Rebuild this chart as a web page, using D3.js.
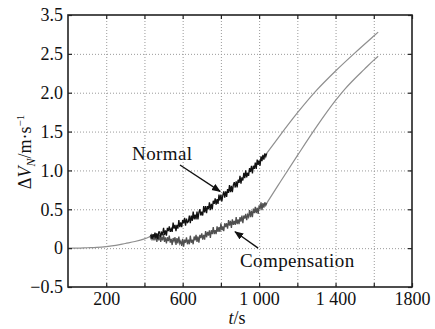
<!DOCTYPE html>
<html>
<head>
<meta charset="utf-8">
<script src="https://cdn.jsdelivr.net/npm/d3@7"></script>
<style>
  body { margin: 0; background: #fff; }
  #chart, #chart text { font-family: 'Liberation Serif', 'Times New Roman', Times, Tinos, 'Nimbus Roman', FreeSerif, 'DejaVu Serif', serif; }
</style>
</head>
<body>
<svg id="chart" width="435" height="329"></svg>
<script>
// shared smooth start (both runs identical before ~430 s)
const startT = [0, 50, 100, 150, 200, 250, 300, 350, 400, 430];
const startV = [0, 0, 0.005, 0.01, 0.02, 0.035, 0.06, 0.085, 0.12, 0.15];

// noisy section, every 5 s from 430 to 1040
const noisyT = d3.range(430, 1041, 5);
const normalNoisy = [
  0.15, 0.17, 0.12, 0.18, 0.14, 0.20, 0.13, 0.19, 0.12, 0.21,
  0.21, 0.14, 0.20, 0.18, 0.26, 0.17, 0.23, 0.16, 0.26, 0.22,
  0.28, 0.21, 0.25, 0.21, 0.33, 0.25, 0.30, 0.22, 0.30, 0.25,
  0.36, 0.27, 0.33, 0.27, 0.36, 0.32, 0.39, 0.29, 0.38, 0.33,
  0.34, 0.42, 0.32, 0.42, 0.35, 0.47, 0.37, 0.43, 0.37, 0.47,
  0.37, 0.46, 0.50, 0.42, 0.47, 0.42, 0.54, 0.46, 0.54, 0.45,
  0.54, 0.50, 0.59, 0.49, 0.57, 0.50, 0.61, 0.57, 0.64, 0.56,
  0.63, 0.57, 0.69, 0.61, 0.69, 0.60, 0.68, 0.73, 0.65, 0.73,
  0.66, 0.76, 0.71, 0.81, 0.72, 0.80, 0.72, 0.81, 0.85, 0.78,
  0.86, 0.78, 0.88, 0.84, 0.93, 0.83, 0.91, 0.87, 0.97, 0.90,
  1.00, 0.91, 0.97, 0.93, 1.03, 0.98, 1.06, 0.96, 1.06, 1.02,
  1.10, 1.02, 1.14, 1.07, 1.13, 1.06, 1.18, 1.12, 1.20, 1.14,
  1.22, 1.18, 1.22];
const compNoisy = [
  0.15, 0.12, 0.17, 0.10, 0.17, 0.10, 0.19, 0.08, 0.15, 0.10,
  0.17, 0.08, 0.14, 0.10, 0.18, 0.08, 0.14, 0.06, 0.14, 0.09,
  0.16, 0.07, 0.12, 0.04, 0.13, 0.09, 0.14, 0.04, 0.13, 0.06,
  0.15, 0.06, 0.09, 0.03, 0.12, 0.02, 0.11, 0.07, 0.14, 0.05,
  0.11, 0.05, 0.16, 0.07, 0.11, 0.05, 0.15, 0.10, 0.17, 0.08,
  0.15, 0.07, 0.17, 0.13, 0.19, 0.11, 0.17, 0.11, 0.22, 0.14,
  0.21, 0.16, 0.23, 0.13, 0.23, 0.18, 0.27, 0.18, 0.23, 0.18,
  0.28, 0.21, 0.27, 0.21, 0.32, 0.23, 0.28, 0.22, 0.32, 0.27,
  0.32, 0.25, 0.36, 0.29, 0.35, 0.26, 0.37, 0.30, 0.35, 0.30,
  0.40, 0.31, 0.37, 0.31, 0.40, 0.34, 0.42, 0.32, 0.42, 0.38,
  0.44, 0.36, 0.43, 0.40, 0.49, 0.40, 0.48, 0.40, 0.51, 0.45,
  0.53, 0.45, 0.52, 0.44, 0.55, 0.50, 0.59, 0.49, 0.58, 0.52,
  0.59, 0.55, 0.58];

// smooth tails after the noisy part
const normalTailT = [1040, 1100, 1200, 1300, 1400, 1500, 1600, 1623];
const normalTailV = [1.22, 1.42, 1.74, 2.03, 2.28, 2.51, 2.73, 2.78];
const compTailT = [1040, 1100, 1200, 1300, 1400, 1450, 1500, 1550, 1600, 1623];
const compTailV = [0.58, 0.81, 1.19, 1.56, 1.90, 2.05, 2.18, 2.30, 2.42, 2.47];

const xTicks = [200, 400, 600, 800, 1000, 1200, 1400, 1600, 1800];
const xLabels = { 200: "200", 600: "600", 1000: "1 000", 1400: "1 400", 1800: "1800" };
const yTicks = [-0.5, 0, 0.5, 1.0, 1.5, 2.0, 2.5, 3.0];
const yLabels = ["\u22120.5", "0", "0.5", "1.0", "1.5", "2.0", "2.5", "3.5"];

const serif = "'Liberation Serif', 'Times New Roman', Times, Tinos, 'Nimbus Roman', FreeSerif, 'DejaVu Serif', serif";
const svg = d3.select("#chart").attr("font-family", serif);
const mLeft = 68, mRight = 412, mTop = 15, mBottom = 287;
const x = d3.scaleLinear().domain([0, 1800]).range([mLeft, mRight]);
const y = d3.scaleLinear().domain([-0.5, 3.0]).range([mBottom, mTop]);

const zip = (ts, vs) => ts.map((t, i) => [t, vs[i]]);
const smooth = d3.line().curve(d3.curveMonotoneX).x(d => x(d[0])).y(d => y(d[1]));
const line = d3.line().x(d => x(d[0])).y(d => y(d[1]));

// grid
const grid = svg.append("g").attr("stroke", "#9a9a9a").attr("stroke-width", 1)
  .attr("stroke-dasharray", "1,2");
grid.selectAll("line.gx").data(xTicks.slice(0, -1)).join("line")
  .attr("x1", d => x(d) + 0.5).attr("x2", d => x(d) + 0.5)
  .attr("y1", mTop).attr("y2", mBottom);
grid.selectAll("line.gy").data(yTicks.slice(1, -1)).join("line")
  .attr("x1", mLeft).attr("x2", mRight)
  .attr("y1", d => y(d) + 0.5).attr("y2", d => y(d) + 0.5);

// curves
[[startT, startV], [normalTailT, normalTailV], [compTailT, compTailV]].forEach(([ts, vs]) => {
  svg.append("path").datum(zip(ts, vs))
    .attr("d", smooth).attr("fill", "none").attr("stroke", "#8f8f8f").attr("stroke-width", 1.2);
});
svg.append("path").datum(zip(noisyT, compNoisy))
  .attr("d", line).attr("fill", "none").attr("stroke", "#505050").attr("stroke-width", 1.3);
svg.append("path").datum(zip(noisyT, normalNoisy))
  .attr("d", line).attr("fill", "none").attr("stroke", "#111").attr("stroke-width", 1.3);

// axes (ticks inward, frame drawn separately)
const xAxis = d3.axisBottom(x).tickValues(xTicks).tickSize(-4).tickPadding(5)
  .tickFormat(d => xLabels[d] || "");
const yAxis = d3.axisLeft(y).tickValues(yTicks).tickSize(-4).tickPadding(5)
  .tickFormat((d, i) => yLabels[i]);
svg.append("g").attr("transform", `translate(0,${mBottom})`).call(xAxis);
svg.append("g").attr("transform", `translate(${mLeft},0)`).call(yAxis);
svg.append("g").attr("transform", `translate(0,${mTop})`)
  .call(d3.axisTop(x).tickValues(xTicks).tickSize(-4).tickFormat(""));
svg.append("g").attr("transform", `translate(${mRight},0)`)
  .call(d3.axisRight(y).tickValues(yTicks).tickSize(-4).tickFormat(""));
svg.selectAll(".domain").remove();
svg.selectAll(".tick line").attr("stroke", "#222").attr("stroke-width", 1.2);
svg.selectAll(".tick text").attr("font-size", 18).attr("font-family", serif).attr("fill", "#111");

svg.append("rect").attr("x", mLeft).attr("y", mTop)
  .attr("width", mRight - mLeft).attr("height", mBottom - mTop)
  .attr("fill", "none").attr("stroke", "#222").attr("stroke-width", 1.6);

// titles
const xt = svg.append("text").attr("x", (mLeft + mRight) / 2 - 3).attr("y", 324)
  .attr("text-anchor", "middle").attr("font-size", 18).attr("font-family", serif).attr("fill", "#111");
xt.append("tspan").attr("font-style", "italic").text("t");
xt.append("tspan").text("/s");

const yt = svg.append("text").attr("transform", "translate(31,152) rotate(-90)")
  .attr("text-anchor", "middle").attr("font-size", 18).attr("font-family", serif).attr("fill", "#111");
yt.append("tspan").text("\u0394");
yt.append("tspan").attr("font-style", "italic").text("V");
yt.append("tspan").attr("font-style", "italic").attr("font-size", 12).attr("dy", 4).text("N");
yt.append("tspan").attr("dy", -4).text("/m\u00b7s");
yt.append("tspan").attr("font-size", 11).attr("dy", -7).text("\u22121");

// annotations
svg.append("defs").append("marker").attr("id", "arr")
  .attr("viewBox", "0 0 10 10").attr("refX", 9).attr("refY", 5)
  .attr("markerWidth", 9).attr("markerHeight", 9).attr("orient", "auto")
  .attr("markerUnits", "userSpaceOnUse")
  .append("path").attr("d", "M0,1 L10,5 L0,9 Z").attr("fill", "#111");

const notes = [
  { label: "Normal", tx: 335, tv: 1.13, from: [586, 1.07], to: [796, 0.73] },
  { label: "Compensation", tx: 900, tv: -0.24, from: [995, 0.0], to: [874, 0.21] }
];
notes.forEach(n => {
  svg.append("line")
    .attr("x1", x(n.from[0])).attr("y1", y(n.from[1]))
    .attr("x2", x(n.to[0])).attr("y2", y(n.to[1]))
    .attr("stroke", "#111").attr("stroke-width", 1.3).attr("marker-end", "url(#arr)");
  svg.append("text").attr("x", x(n.tx)).attr("y", y(n.tv))
    .attr("font-size", 19).attr("font-family", serif).attr("letter-spacing", 0.4)
    .attr("fill", "#111").text(n.label);
});
</script>
</body>
</html>
